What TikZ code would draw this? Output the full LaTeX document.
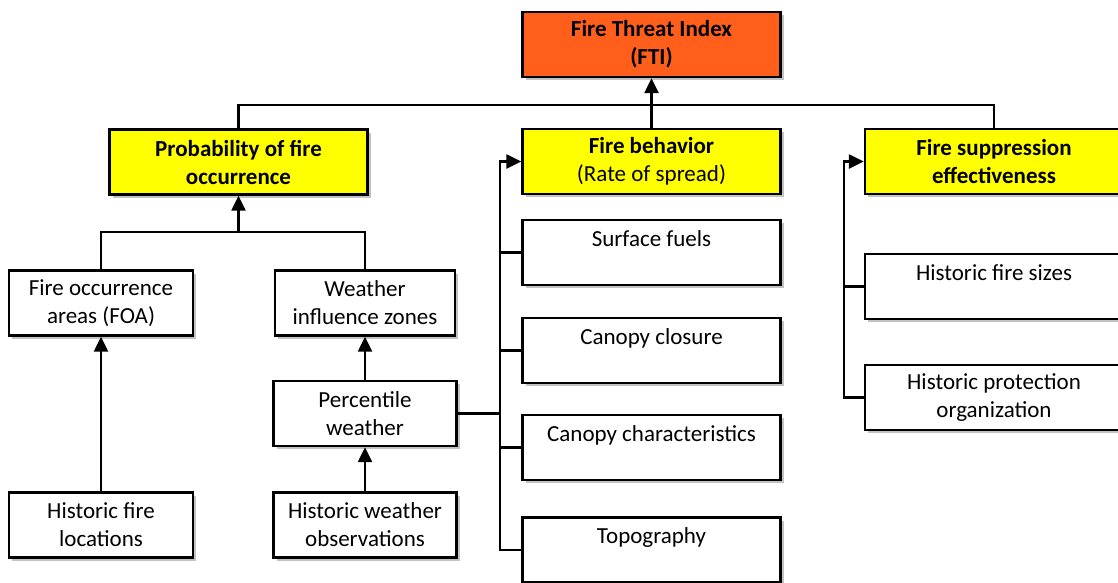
\documentclass[tikz,border=0pt]{standalone}
\usepackage{fontspec}
\setmainfont{Carlito}
\usetikzlibrary{arrows.meta,shadows}
\definecolor{ftiorange}{HTML}{FF5F1A}
\definecolor{boxyellow}{HTML}{FFFF00}
\tikzset{
  x=1pt, y=-1pt,
  box/.style={draw=black, line width=2.4pt, fill=white, align=center, inner sep=0pt,
    font=\fontsize{23}{28}\selectfont,
    drop shadow={shadow xshift=3pt, shadow yshift=-3pt, opacity=0.4, fill=black!60}},
  bold/.style={font=\fontsize{23}{28}\selectfont\bfseries},
  wide/.style={box, minimum width=258pt, minimum height=65pt},
  narrow/.style={box, minimum width=183pt, minimum height=65pt},
  ybox/.style={wide, fill=boxyellow},
  link/.style={line width=2.4pt, line cap=rect},
  arr/.style={line width=2.4pt, -{Triangle[length=15pt,width=14pt]}}
}
\begin{document}
\begin{tikzpicture}
\useasboundingbox (0,0) rectangle (1118,582);
% top
\node[wide, fill=ftiorange, bold] (fti) at (651.5,44.5) {Fire Threat Index\\(FTI)};
\node[ybox, bold] (prob) at (238.5,162) {Probability of fire\\occurrence};
\node[ybox] (fb) at (651.5,161.5) {\textbf{Fire behavior}\\(Rate of spread)};
\node[ybox, bold] (fs) at (994,161.5) {Fire suppression\\effectiveness};
% probability subtree
\node[narrow, minimum width=184pt] (foa) at (101,303) {Fire occurrence\\areas (FOA)};
\node[narrow, minimum width=180pt] (wz) at (365,303) {Weather\\influence zones};
\node[narrow] (pw) at (365,413.5) {Percentile\\weather};
\node[narrow, minimum width=184pt] (hfl) at (101,525) {Historic fire\\locations};
\node[narrow] (hwo) at (365,525) {Historic weather\\observations};
% fire behavior column
\node[wide] (sf) at (651.5,252.5) {Surface fuels\\\mbox{}};
\node[wide] (cc) at (651.5,350.5) {Canopy closure\\\mbox{}};
\node[wide] (cch) at (651.5,447.5) {Canopy characteristics\\\mbox{}};
\node[wide] (topo) at (651.5,550) {Topography\\\mbox{}};
% suppression column
\node[wide] (hfs) at (994,286.5) {Historic fire sizes\\\mbox{}};
\node[wide] (hp) at (994,397.5) {Historic protection\\organization};
% helper coordinates
\coordinate (bar) at (0,105);
\coordinate (pj) at (0,232);
\coordinate (fbx) at (500,0);
\coordinate (fsx) at (844,0);
% connectors
\draw[arr] (fb.north) -- (fti.south);
\draw[link] (prob.north) -- (prob.north |- bar) -- (fs.north |- bar) -- (fs.north);
\draw[link] (foa.north) -- (foa.north |- pj) -- (wz.north |- pj) -- (wz.north);
\draw[arr] (prob.south |- pj) -- (prob.south);
\draw[arr] (hfl.north) -- (foa.south);
\draw[arr] (pw.north) -- (wz.south);
\draw[arr] (hwo.north) -- (pw.south);
\draw[arr] (topo.west) -- (topo.west -| fbx) |- (fb.west);
\draw[link] (sf.west) -- (sf.west -| fbx);
\draw[link] (cc.west) -- (cc.west -| fbx);
\draw[link] (cch.west) -- (cch.west -| fbx);
\draw[link] (pw.east) -- (pw.east -| fbx);
\draw[arr] (hp.west) -- (hp.west -| fsx) |- (fs.west);
\draw[link] (hfs.west) -- (hfs.west -| fsx);
\end{tikzpicture}
\end{document}
